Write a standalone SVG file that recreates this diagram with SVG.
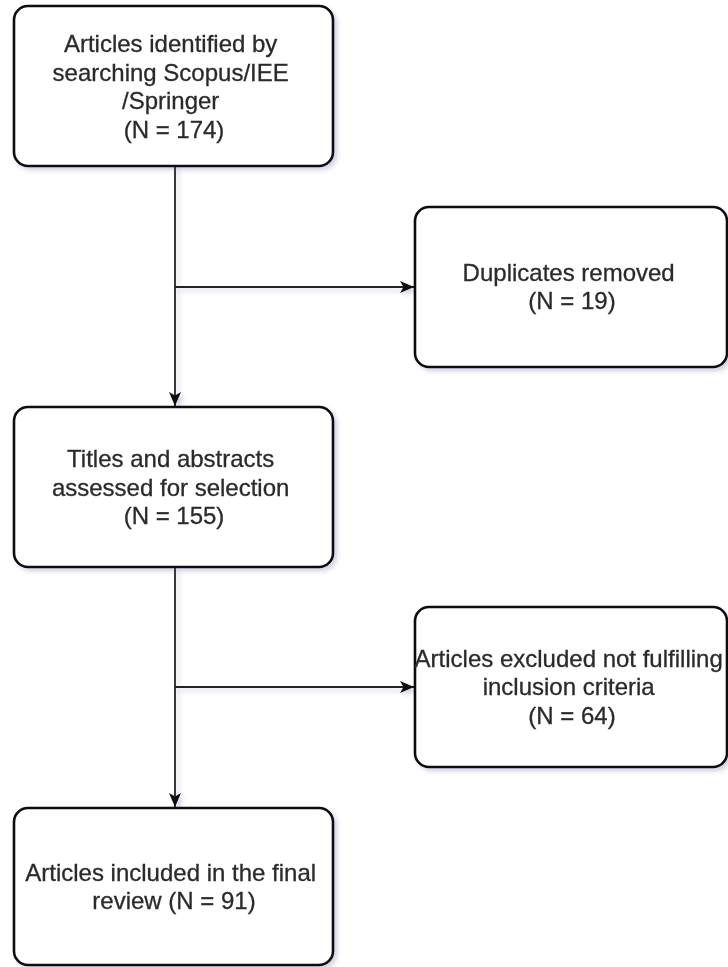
<svg xmlns="http://www.w3.org/2000/svg" width="728" height="967" viewBox="0 0 728 967">
  <style>
    .box { fill: #ffffff; stroke: #111111; stroke-width: 2.6; }
    .lbl { font-family: "Liberation Sans", Arial, sans-serif; font-size: 24px; fill: #2a2a2a; text-anchor: middle; stroke: #2a2a2a; stroke-width: 0.3; }
    .edge { fill: none; stroke: #222222; stroke-width: 1.8; }
  </style>
  <defs>
    <filter id="shadow" x="-10%" y="-10%" width="130%" height="130%">
      <feGaussianBlur in="SourceAlpha" stdDeviation="2"/>
      <feOffset dx="3" dy="3" result="off"/>
      <feFlood flood-color="#3a3a80" flood-opacity="0.22"/>
      <feComposite in2="off" operator="in"/>
      <feMerge>
        <feMergeNode/>
        <feMergeNode in="SourceGraphic"/>
      </feMerge>
    </filter>
    <marker id="arrow" viewBox="0 0 14 12" refX="14" refY="6" markerWidth="14" markerHeight="12" markerUnits="userSpaceOnUse" orient="auto">
      <path d="M0,0 L14,6 L0,12 L3.5,6 Z" fill="#111111"/>
    </marker>
  </defs>

  <!-- connectors -->
  <g id="connectors" filter="url(#shadow)">
    <path class="edge" d="M175,166 V406" marker-end="url(#arrow)"/>
    <path class="edge" d="M175,287 H414" marker-end="url(#arrow)"/>
    <path class="edge" d="M175,567 V807" marker-end="url(#arrow)"/>
    <path class="edge" d="M175,687 H414" marker-end="url(#arrow)"/>
  </g>

  <g id="identified" filter="url(#shadow)">
    <rect class="box" x="14" y="6" width="319" height="160" rx="14"/>
    <text class="lbl">
      <tspan x="174" y="52">Articles identified by</tspan>
      <tspan x="174" y="81">searching Scopus/IEE</tspan>
      <tspan x="174" y="109">/Springer</tspan>
      <tspan x="174" y="138">(N = 174)</tspan>
    </text>
  </g>

  <g id="duplicates" filter="url(#shadow)">
    <rect class="box" x="415" y="207" width="312" height="160" rx="14"/>
    <text class="lbl">
      <tspan x="572" y="281">Duplicates removed</tspan>
      <tspan x="572" y="309">(N = 19)</tspan>
    </text>
  </g>

  <g id="screened" filter="url(#shadow)">
    <rect class="box" x="14" y="407" width="319" height="160" rx="14"/>
    <text class="lbl">
      <tspan x="174" y="467">Titles and abstracts</tspan>
      <tspan x="174" y="496">assessed for selection</tspan>
      <tspan x="174" y="524">(N = 155)</tspan>
    </text>
  </g>

  <g id="excluded" filter="url(#shadow)">
    <rect class="box" x="415" y="607" width="312" height="160" rx="14"/>
    <text class="lbl">
      <tspan x="572" y="667">Articles excluded not fulfilling</tspan>
      <tspan x="572" y="695">inclusion criteria</tspan>
      <tspan x="572" y="724">(N = 64)</tspan>
    </text>
  </g>

  <g id="included" filter="url(#shadow)">
    <rect class="box" x="14" y="808" width="319" height="157" rx="14"/>
    <text class="lbl">
      <tspan x="174" y="881">Articles included in the final</tspan>
      <tspan x="174" y="909">review (N = 91)</tspan>
    </text>
  </g>
</svg>
